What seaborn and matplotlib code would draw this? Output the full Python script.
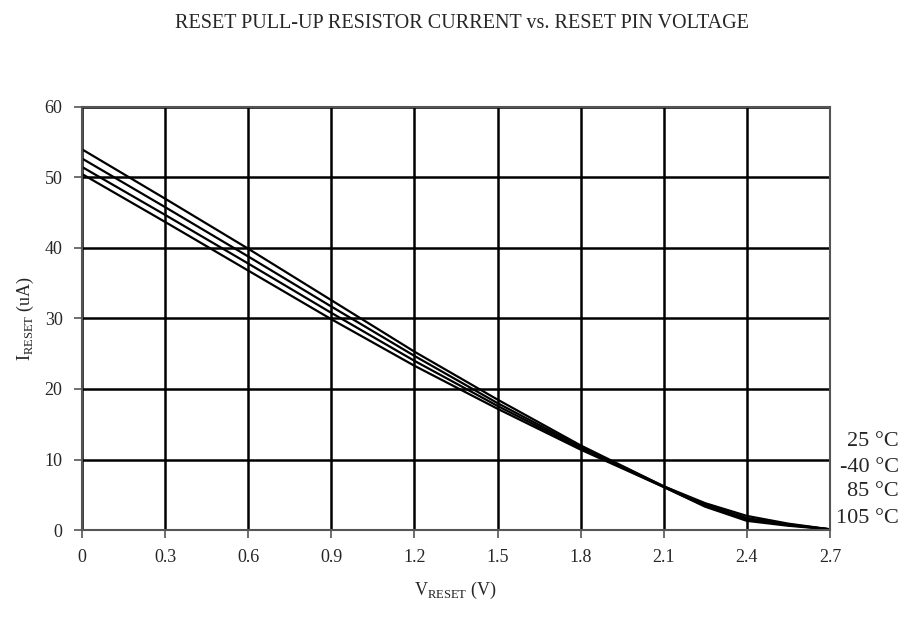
import pandas as pd
import matplotlib.pyplot as plt
import seaborn as sns

# Readings (V in volts, I in uA)
v_reset = [0.0, 0.3, 0.6, 0.9, 1.2, 1.5, 1.8, 2.1, 2.25, 2.4, 2.55, 2.7]
i_25 = [54.0, 47.0, 39.9, 32.6, 25.3, 18.5, 12.0, 6.2, 3.8, 2.0, 0.9, 0.1]
i_m40 = [52.7, 45.8, 38.8, 31.7, 24.7, 18.0, 11.8, 6.2, 3.6, 1.7, 0.8, 0.1]
i_85 = [51.5, 44.7, 37.8, 30.8, 24.0, 17.6, 11.6, 6.1, 3.4, 1.5, 0.7, 0.1]
i_105 = [50.5, 43.7, 36.8, 29.9, 23.3, 17.2, 11.4, 6.1, 3.3, 1.3, 0.6, 0.1]

temp_labels = ["25 °C", "-40 °C", "85 °C", "105 °C"]
label_y = [12.6, 8.9, 5.4, 1.7]

x_ticks = [0, 0.3, 0.6, 0.9, 1.2, 1.5, 1.8, 2.1, 2.4, 2.7]
x_tick_labels = ["0", "0.3", "0.6", "0.9", "1.2", "1.5", "1.8", "2.1", "2.4", "2.7"]
y_ticks = [0, 10, 20, 30, 40, 50, 60]

rows = []
for name, vals in zip(temp_labels, [i_25, i_m40, i_85, i_105]):
    for v, i in zip(v_reset, vals):
        rows.append({"V": v, "I": i, "temp": name})
df = pd.DataFrame(rows)

sns.set_style("white")
plt.rcParams["font.family"] = ["Liberation Serif", "DejaVu Serif"]
plt.rcParams["mathtext.fontset"] = "custom"
plt.rcParams["mathtext.rm"] = "Liberation Serif"

fig = plt.figure(figsize=(9.24, 6.17), dpi=100)
ax = fig.add_axes([0.0887, 0.141, 0.8095, 0.6856])

sns.lineplot(data=df, x="V", y="I", units="temp", estimator=None,
             color="black", linewidth=1.6, ax=ax, legend=False)

ax.set_xlim(0, 2.7)
ax.set_ylim(0, 60)
ax.set_xticks(x_ticks)
ax.set_xticklabels(x_tick_labels)
ax.set_yticks(y_ticks)
ax.grid(True, color="black", linewidth=1.8)
ax.set_axisbelow(True)
for s in ax.spines.values():
    s.set_color("#555555")
    s.set_linewidth(1.5)
ax.tick_params(axis="both", direction="out", length=6, width=1.2,
               color="#555555", labelsize=13, pad=8)
ax.tick_params(axis="x", bottom=True)
ax.tick_params(axis="y", left=True)

ax.set_xlabel(r"V$_{\mathrm{RESET}}$ (V)", fontsize=13, labelpad=10)
ax.set_ylabel(r"I$_{\mathrm{RESET}}$ (uA)", fontsize=13, labelpad=6)

for lab, y in zip(temp_labels, label_y):
    ax.text(2.95, y, lab, ha="right", va="center", fontsize=16,
            family="Liberation Serif", clip_on=False)

fig.suptitle("RESET PULL-UP RESISTOR CURRENT vs. RESET PIN VOLTAGE",
             x=0.5, y=0.978, fontsize=14.5)

fig.savefig("out.png", dpi=100)
